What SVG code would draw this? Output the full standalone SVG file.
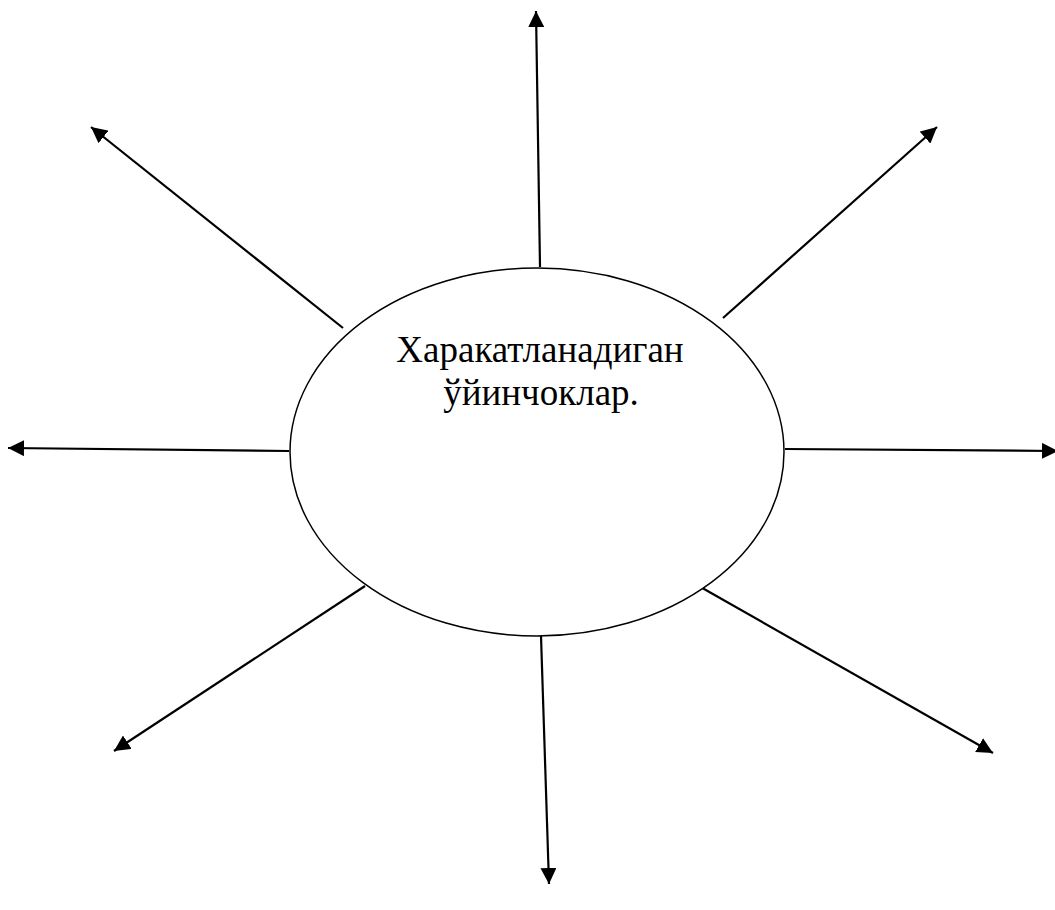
<svg xmlns="http://www.w3.org/2000/svg" width="1055" height="910" viewBox="0 0 1055 910">
<style>
.c{stroke:#000;stroke-width:2.2;fill:none;marker-end:url(#a2)}
.n{fill:#fff;stroke:#000;stroke-width:1.5}
.t{font-family:"Liberation Serif","Times New Roman",serif;font-size:37px;fill:#000;text-anchor:middle}
</style>
<defs>
<marker id="a2" viewBox="0 0 16 16" refX="16" refY="8" markerWidth="16" markerHeight="16" markerUnits="userSpaceOnUse" orient="auto">
<path d="M0,0 L16,8 L0,16 Z" fill="#000"/>
</marker>
</defs>
<g id="connectors">
<line class="c" x1="540" y1="267" x2="536" y2="11"/>
<line class="c" x1="723" y1="318" x2="937" y2="127"/>
<line class="c" x1="785" y1="449" x2="1058" y2="451"/>
<line class="c" x1="697" y1="585" x2="993" y2="753"/>
<line class="c" x1="541" y1="636" x2="549" y2="884"/>
<line class="c" x1="365" y1="586" x2="114" y2="751"/>
<line class="c" x1="289" y1="451" x2="8" y2="448"/>
<line class="c" x1="343" y1="328" x2="91" y2="127"/>
</g>
<g id="center">
<ellipse class="n" cx="537" cy="452" rx="247" ry="184"/>
<text class="t" x="540" y="362">Харакатланадиган</text>
<text class="t" x="541" y="405">ўйинчоклар.</text>
</g>
</svg>
